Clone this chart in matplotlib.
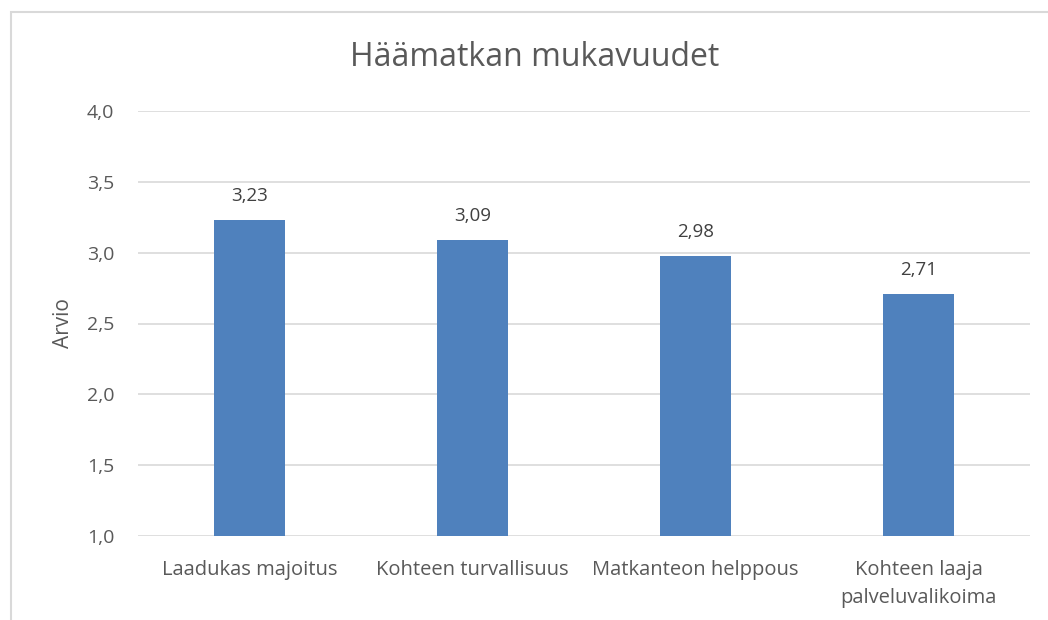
import matplotlib.pyplot as plt
from matplotlib.patches import Rectangle

categories = ['Laadukas majoitus', 'Kohteen turvallisuus', 'Matkanteon helppous',
              'Kohteen laaja\npalveluvalikoima']
values = [3.23, 3.09, 2.98, 2.71]
yticks = [1.0, 1.5, 2.0, 2.5, 3.0, 3.5, 4.0]

plt.rcParams['font.family'] = ['Open Sans', 'DejaVu Sans']
txt = '#595959'
grid = '#d9d9d9'
bar_col = '#4f81bd'

fig = plt.figure(figsize=(10.48, 6.2), dpi=100)
W, H = 1048, 620
ax = fig.add_axes([138 / W, 1 - 536 / H, (1030 - 138) / W, (536 - 111) / H])

x = range(len(categories))
ax.bar(x, [v - 1.0 for v in values], bottom=1.0, width=0.315, color=bar_col, zorder=3)
for i, v in enumerate(values):
    ax.text(i, v + 0.105, f'{v:.2f}'.replace('.', ','), ha='center', va='bottom',
            fontsize=13.5, color='#404040')

ax.set_ylim(1.0, 4.0)
ax.set_xlim(-0.5, len(categories) - 0.5)
ax.set_yticks(yticks)
ax.set_yticklabels([f'{t:.1f}'.replace('.', ',') for t in yticks], fontsize=14, color=txt)
ax.set_xticks(list(x))
ax.set_xticklabels(categories, fontsize=14.5, color=txt, linespacing=1.55)
ax.tick_params(length=0)
ax.tick_params(axis='x', pad=17)
ax.tick_params(axis='y', pad=17)
ax.yaxis.grid(True, color=grid, linewidth=1.2, zorder=0)
for s in ax.spines.values():
    s.set_visible(False)
ax.set_ylabel('Arvio', fontsize=15, color=txt, labelpad=9)

fig.text(535 / W, 1 - 58 / H, 'Häämatkan mukavuudet', ha='center', va='center',
         fontsize=23, color=txt)

# chart border
fig.patches.append(Rectangle((11 / W, -0.1), 1.2, 1 - 12 / H + 0.1, transform=fig.transFigure,
                             fill=False, edgecolor=grid, linewidth=1.5))

fig.savefig('out.png', dpi=100)
